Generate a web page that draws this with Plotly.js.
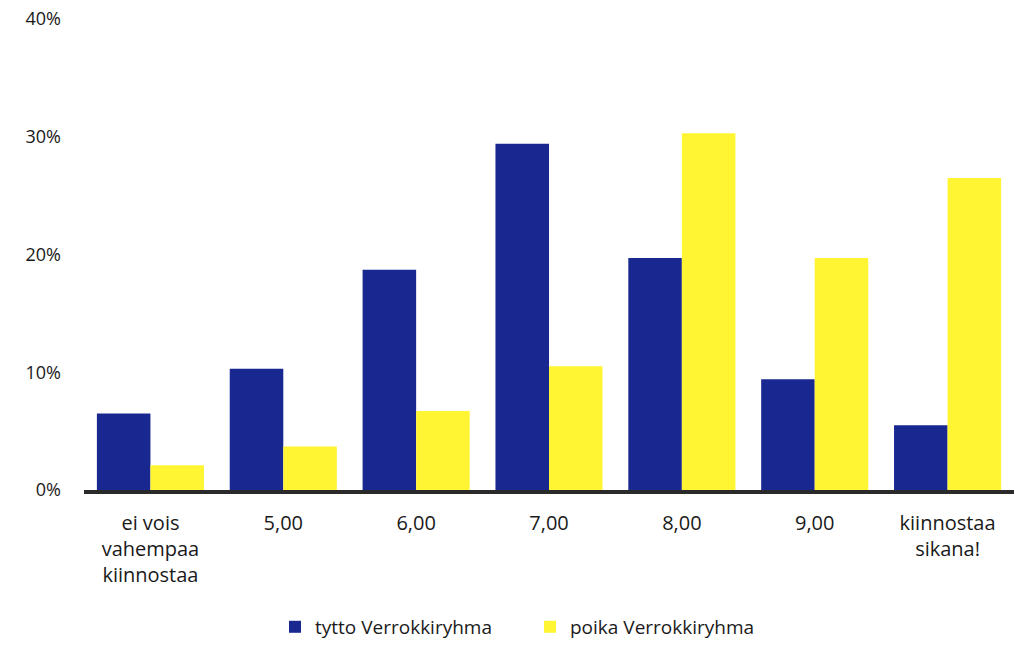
<!DOCTYPE html>
<html>
<head>
<meta charset="utf-8">
<script src="https://cdn.plot.ly/plotly-3.0.1.min.js"></script>
<style>html,body{margin:0;padding:0;background:#fff;}#chart{width:1020px;height:645px;}</style>
</head>
<body>
<div id="chart"></div>
<script>
const categories = ["ei vois<br>vahempaa<br>kiinnostaa", "5,00", "6,00", "7,00", "8,00", "9,00", "kiinnostaa<br>sikana!"];
const seriesNames = ["tytto Verrokkiryhma", "poika Verrokkiryhma"];
const tytto = [6.5, 10.3, 18.7, 29.4, 19.7, 9.4, 5.5];
const poika = [2.1, 3.7, 6.7, 10.5, 30.3, 19.7, 26.5];
const yTicks = [0, 10, 20, 30, 40];

const font = {family: "Open Sans, Lato, sans-serif", size: 18, color: "#1a1a1a"};

const data = [
  {type: "bar", name: seriesNames[0], x: categories, y: tytto, marker: {color: "#182890"}, hoverinfo: "skip"},
  {type: "bar", name: seriesNames[1], x: categories, y: poika, marker: {color: "#fff533"}, hoverinfo: "skip"}
];

const layout = {
  width: 1020, height: 645,
  margin: {l: 84, r: 6, t: 19, b: 155},
  paper_bgcolor: "#fff", plot_bgcolor: "#fff",
  font: font,
  barmode: "group", bargap: 0.194, bargroupgap: 0,
  showlegend: true,
  legend: {orientation: "h", xref: "container", x: 0.2696, xanchor: "left", yref: "container", y: 0.028, yanchor: "middle",
           font: {size: 19, family: font.family, color: "#1a1a1a"}, entrywidth: 210, entrywidthmode: "pixels", tracegroupgap: 0},
  xaxis: {
    type: "category",
    showline: true, linewidth: 4, linecolor: "#2a2a2a",
    ticks: "", showgrid: false, zeroline: false,
    tickfont: {size: 20, family: font.family, color: "#1a1a1a"},
    ticklabelstandoff: 12
  },
  yaxis: {
    range: [0, 40], tickvals: yTicks, ticktext: yTicks.map(v => v + "%"),
    showgrid: false, zeroline: false, showline: false, ticks: "",
    tickfont: {size: 18, family: font.family, color: "#1a1a1a"},
    ticklabelstandoff: 22
  }
};

Plotly.newPlot("chart", data, layout, {displayModeBar: false, staticPlot: true});
</script>
</body>
</html>
